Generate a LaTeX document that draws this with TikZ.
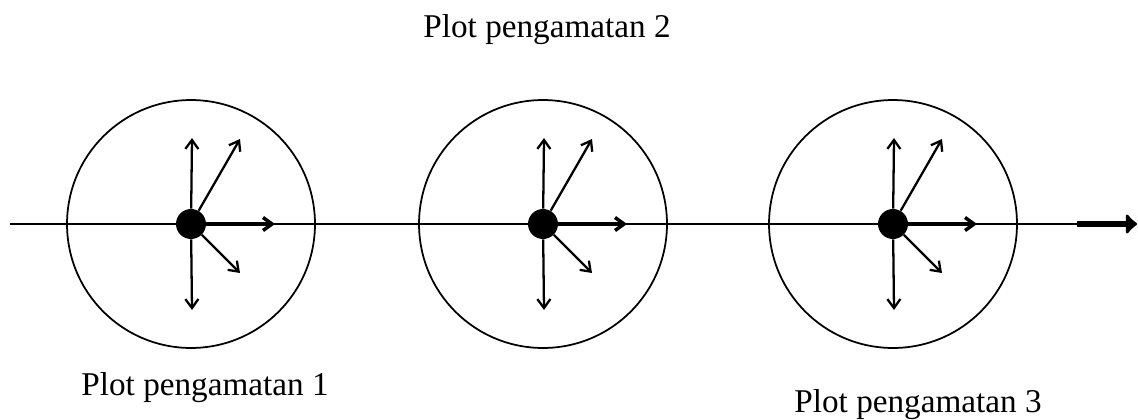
\documentclass[tikz,border=0pt]{standalone}
\usepackage{fontspec}
\setmainfont{Liberation Serif}
\usetikzlibrary{arrows.meta}
\tikzset{
    % circle of one observation plot
    plotarea/.style={
        circle,
        draw=black,
        line width=1pt,
        minimum size=4.96cm,
        inner sep=0pt
    },
    % centre point
    plotcentre/.style={
        circle,
        fill=black,
        minimum size=0.6cm,
        inner sep=0pt
    },
    plotlabel/.style={
        anchor=base,
        font=\fontsize{18.9}{22}\selectfont
    },
    % arrow styles
    arrow/.style={
        ->,
        >={Straight Barb[length=1.8mm,width=2.6mm]},
        line width=1.3pt
    },
    thickarrow/.style={
        arrow,
        line width=2pt
    },
    transect/.style={
        line width=1pt
    },
    transectend/.style={
        -{Latex[length=2.4mm,width=5mm,round]},
        line width=3pt
    }
}
\begin{document}
\begin{tikzpicture}[x=0.02cm, y=-0.02cm]
    \useasboundingbox (0,0) rectangle (1138,419);

    % transect line
    \coordinate (start) at (10,224);
    \coordinate (bend) at (1077,224);
    \coordinate (stop) at (1137,224);
    \draw[transect] (start) -- (bend);
    \draw[transectend] (bend) -- (stop);

    % plots
    \foreach \i/\cx in {1/191, 2/543, 3/893} {
        \node[plotarea] (plot\i) at (\cx,224) {};
        \node[plotcentre] (dot\i) at (\cx,224) {};
        \coordinate (up\i) at (\cx+1,138);
        \coordinate (upright\i) at (\cx+49,139);
        \coordinate (right\i) at (\cx+84,224);
        \coordinate (downright\i) at (\cx+49,273);
        \coordinate (down\i) at (\cx+1,310);
        \draw[arrow] (dot\i) -- (up\i);
        \draw[arrow] (dot\i) -- (upright\i);
        \draw[thickarrow] (dot\i) -- (right\i);
        \draw[arrow] (dot\i) -- (downright\i);
        \draw[arrow] (dot\i) -- (down\i);
    }

    % labels
    \node[plotlabel] (label2) at (547,37) {Plot pengamatan 2};
    \node[plotlabel] (label1) at (205,395) {Plot pengamatan 1};
    \node[plotlabel] (label3) at (918,412) {Plot pengamatan 3};
\end{tikzpicture}
\end{document}
